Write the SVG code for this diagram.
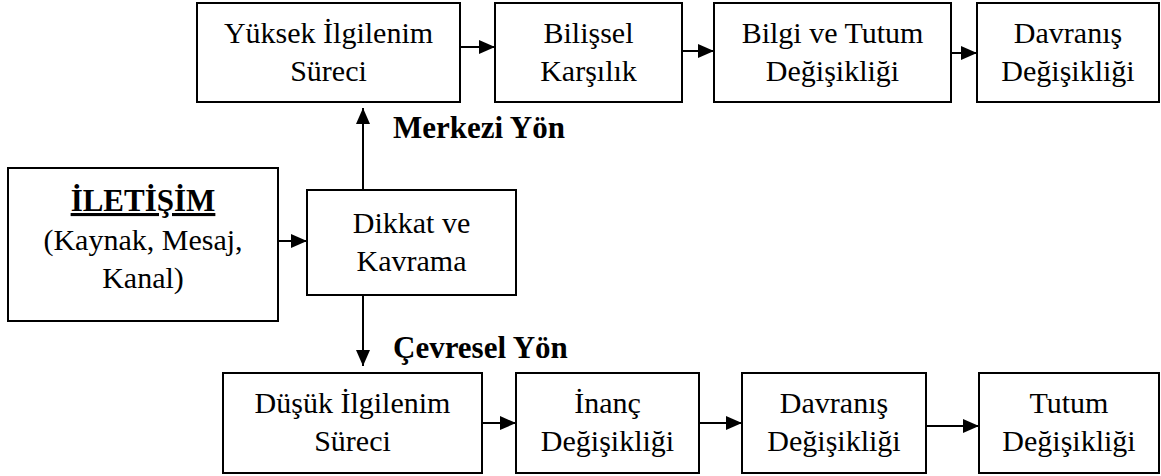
<svg xmlns="http://www.w3.org/2000/svg" width="1161" height="476" viewBox="0 0 1161 476">
  <style>
    .box { fill: #ffffff; stroke: #000000; stroke-width: 2; }
    .lbl { font-size: 30px; fill: #000000; text-anchor: middle; }
    .bold { font-size: 31px; font-weight: bold; fill: #000000; }
    .edge { stroke: #000000; stroke-width: 2; fill: none; marker-end: url(#ah); }
  </style>
  <defs>
    <marker id="ah" viewBox="0 0 16 14" refX="16" refY="7" markerWidth="16" markerHeight="14" markerUnits="userSpaceOnUse" orient="auto">
      <path d="M0,0 L16,7 L0,14 z" fill="#000000"/>
    </marker>
  </defs>
  <rect width="1161" height="476" fill="#ffffff"/>

  <g font-family="Liberation Serif, Tinos, Times New Roman, serif">
  <!-- central route -->
  <g id="yuksek-ilgilenim">
    <rect class="box" x="197" y="3" width="263" height="99"/>
    <text class="lbl" x="328.5" y="43">Yüksek İlgilenim</text>
    <text class="lbl" x="328.5" y="81">Süreci</text>
  </g>
  <g id="bilissel-karsilik">
    <rect class="box" x="495" y="3" width="187" height="99"/>
    <text class="lbl" x="588.5" y="43">Bilişsel</text>
    <text class="lbl" x="588.5" y="81">Karşılık</text>
  </g>
  <g id="bilgi-tutum">
    <rect class="box" x="714" y="3" width="237" height="99"/>
    <text class="lbl" x="832.5" y="43">Bilgi ve Tutum</text>
    <text class="lbl" x="832.5" y="81">Değişikliği</text>
  </g>
  <g id="davranis-ust">
    <rect class="box" x="977" y="3" width="182" height="99"/>
    <text class="lbl" x="1068" y="43">Davranış</text>
    <text class="lbl" x="1068" y="81">Değişikliği</text>
  </g>

  <!-- source and attention -->
  <g id="iletisim">
    <rect class="box" x="8" y="168" width="270" height="153"/>
    <text class="bold" x="143" y="211" text-anchor="middle" text-decoration="underline">İLETİŞİM</text>
    <text class="lbl" x="143" y="250">(Kaynak, Mesaj,</text>
    <text class="lbl" x="143" y="288">Kanal)</text>
  </g>
  <g id="dikkat-kavrama">
    <rect class="box" x="307" y="190" width="209" height="105"/>
    <text class="lbl" x="411.5" y="233">Dikkat ve</text>
    <text class="lbl" x="411.5" y="271">Kavrama</text>
  </g>

  <!-- peripheral route -->
  <g id="dusuk-ilgilenim">
    <rect class="box" x="223" y="373" width="259" height="100"/>
    <text class="lbl" x="352.5" y="413">Düşük İlgilenim</text>
    <text class="lbl" x="352.5" y="451">Süreci</text>
  </g>
  <g id="inanc">
    <rect class="box" x="516" y="373" width="183" height="100"/>
    <text class="lbl" x="607.5" y="413">İnanç</text>
    <text class="lbl" x="607.5" y="451">Değişikliği</text>
  </g>
  <g id="davranis-alt">
    <rect class="box" x="742" y="373" width="184" height="100"/>
    <text class="lbl" x="834" y="413">Davranış</text>
    <text class="lbl" x="834" y="451">Değişikliği</text>
  </g>
  <g id="tutum">
    <rect class="box" x="979" y="373" width="180" height="100"/>
    <text class="lbl" x="1069" y="413">Tutum</text>
    <text class="lbl" x="1069" y="451">Değişikliği</text>
  </g>

  <!-- route labels -->
  <text class="bold" x="393" y="138">Merkezi Yön</text>
  <text class="bold" x="393" y="358">Çevresel Yön</text>
  </g>

  <!-- connectors -->
  <g id="connectors">
    <line class="edge" x1="460" y1="47" x2="495" y2="47"/>
    <line class="edge" x1="682" y1="51" x2="714" y2="51"/>
    <line class="edge" x1="951" y1="53" x2="977" y2="53"/>
    <line class="edge" x1="278" y1="241" x2="307" y2="241"/>
    <line class="edge" x1="363" y1="190" x2="363" y2="108"/>
    <line class="edge" x1="363" y1="295" x2="363" y2="366"/>
    <line class="edge" x1="482" y1="423" x2="516" y2="423"/>
    <line class="edge" x1="699" y1="423" x2="742" y2="423"/>
    <line class="edge" x1="926" y1="426" x2="979" y2="426"/>
  </g>
</svg>
